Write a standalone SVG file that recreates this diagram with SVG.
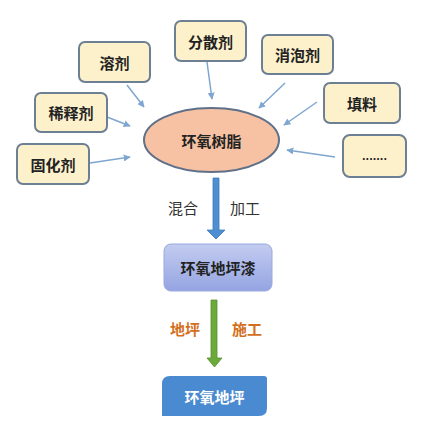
<svg xmlns="http://www.w3.org/2000/svg" width="431" height="432" viewBox="0 0 431 432">
<style>
.box{fill:#fdf1cc;stroke:#6d7f92;stroke-width:2}
.t{font-family:"Noto Sans CJK SC","Noto Sans",sans-serif;font-size:15px;font-weight:bold;fill:#222;text-anchor:middle;dominant-baseline:central}
.lbl{font-family:"Noto Sans CJK SC","Noto Sans",sans-serif;font-size:15px;text-anchor:middle;dominant-baseline:central}
.c{stroke:#7fa6d0;stroke-width:1.5;fill:none;marker-end:url(#ah)}
</style>
<defs>
<marker id="ah" viewBox="0 0 10 10" refX="9" refY="5" markerWidth="7" markerHeight="7" orient="auto" markerUnits="userSpaceOnUse">
<path d="M0,0 L10,5 L0,10 z" fill="#7fa6d0"/>
</marker>
<linearGradient id="lav" x1="0" y1="0" x2="0" y2="1">
<stop offset="0" stop-color="#c3ccf0"/>
<stop offset="1" stop-color="#94a4e2"/>
</linearGradient>
</defs>
<rect width="431" height="432" fill="#ffffff"/>
<g id="connectors">
<line class="c" x1="127" y1="85" x2="144" y2="107"/>
<line class="c" x1="207" y1="62" x2="212" y2="99"/>
<line class="c" x1="285" y1="83" x2="259" y2="108"/>
<line class="c" x1="317" y1="102" x2="284" y2="125"/>
<line class="c" x1="107" y1="117" x2="130" y2="126"/>
<line class="c" x1="90" y1="163" x2="130" y2="157"/>
<line class="c" x1="335" y1="157" x2="287" y2="150"/>
<path d="M213,178 H219 V230 H225 L216,239 L207,230 H213 Z" fill="#4e8fd2" stroke="#3e78b5" stroke-width="0.8"/>
<path d="M211,300 H217 V358 H222 L214.5,367 L207,358 H211 Z" fill="#6aaa3a" stroke="#558f2c" stroke-width="0.8"/>
</g>
<g id="n-rongji"><rect class="box" x="79" y="42" width="71" height="40" rx="6"/><text class="t" x="114.5" y="62">溶剂</text></g>
<g id="n-fensanji"><rect class="box" x="175" y="21" width="71" height="40" rx="6"/><text class="t" x="210.5" y="41">分散剂</text></g>
<g id="n-xiaopaoji"><rect class="box" x="262" y="35" width="71" height="39" rx="6"/><text class="t" x="297.5" y="54.5">消泡剂</text></g>
<g id="n-xishiji"><rect class="box" x="35" y="93" width="72" height="39" rx="6"/><text class="t" x="71" y="112.5">稀释剂</text></g>
<g id="n-tianliao"><rect class="box" x="324" y="83" width="76" height="40" rx="6"/><text class="t" x="362" y="103">填料</text></g>
<g id="n-guhuaji"><rect class="box" x="17" y="144" width="72" height="40" rx="6"/><text class="t" x="53" y="164">固化剂</text></g>
<g id="n-more"><rect class="box" x="343" y="135" width="63" height="42" rx="7"/><text class="t" x="374.5" y="155" style="font-size:11px">.......</text></g>
<g id="n-resin"><ellipse cx="211.5" cy="140" rx="67.5" ry="32" fill="#f7c2a3" stroke="#5f7088" stroke-width="2"/><text class="t" x="211.5" y="140">环氧树脂</text></g>
<g id="lbl-mix"><text class="lbl" x="183" y="207" fill="#333">混合</text><text class="lbl" x="245" y="207" fill="#333">加工</text></g>
<g id="n-paint"><rect x="164" y="244" width="108" height="47" rx="7" fill="url(#lav)" stroke="#9aa8dd" stroke-width="1"/><text class="t" x="218" y="267.5">环氧地坪漆</text></g>
<g id="lbl-build"><text class="lbl" x="185" y="328" fill="#d2701e" font-weight="bold">地坪</text><text class="lbl" x="247" y="328" fill="#d2701e" font-weight="bold">施工</text></g>
<g id="n-floor"><path d="M170,376 H264 Q267,376 267,379 V408 Q267,416 259,416 H162 V384 Q162,376 170,376 Z" fill="#4a8ad0"/><text class="t" x="214.5" y="396" style="fill:#ffffff">环氧地坪</text></g>
</svg>
